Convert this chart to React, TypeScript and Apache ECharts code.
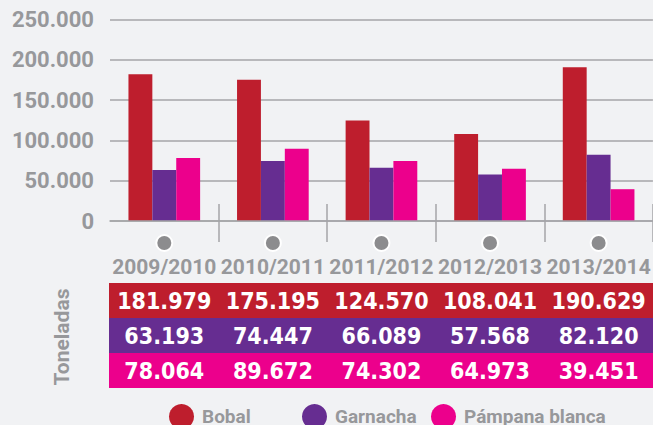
import React, { useEffect, useRef } from "react";
import * as echarts from "echarts";

const categories = ["2009/2010", "2010/2011", "2011/2012", "2012/2013", "2013/2014"];
const seriesNames = ["Bobal", "Garnacha", "Pámpana blanca"];
const bobal = [181979, 175195, 124570, 108041, 190629];
const garnacha = [63193, 74447, 66089, 57568, 82120];
const pampana = [78064, 89672, 74302, 64973, 39451];
const colors = ["#be1e2d", "#662d91", "#ec008c"];
const yMin = 0;
const yMax = 250000;
const yInterval = 50000;
const axisTitle = "Toneladas";

const fmt = (n: number) => String(Math.round(n)).replace(/\B(?=(\d{3})+(?!\d))/g, ".");
const GRAY = "#97989b";
const LINE = "#a4a5a8";

export default function App() {
  const ref = useRef<HTMLDivElement>(null);
  useEffect(() => {
    if (!ref.current) return;
    const chart = echarts.init(ref.current, null, { renderer: "svg" });
    const rows = [bobal, garnacha, pampana];
    const tableAxes = rows.map((row, i) => ({
      type: "category",
      gridIndex: 0,
      position: "bottom",
      offset: 62 + 35 * i,
      data: categories,
      z: 5,
      axisLine: { show: false },
      axisTick: { show: false },
      splitLine: { show: false },
      axisLabel: {
        interval: 0,
        margin: 0,
        color: "#ffffff",
        fontFamily: "DejaVu Sans Condensed",
        fontWeight: "bold",
        fontSize: 23,
        lineHeight: 35,
        formatter: (_v: string, idx: number) => fmt(row[idx]),
      },
    }));
    chart.setOption({
      animation: false,
      backgroundColor: "#f1f2f4",
      grid: { left: 110, right: -7, top: 19.5, bottom: 204, containLabel: false },
      xAxis: [
        {
          type: "category",
          data: categories,
          position: "bottom",
          z: 5,
          axisLine: { show: true, lineStyle: { color: LINE, width: 1.5 } },
          axisTick: {
            show: true,
            inside: true,
            length: 17,
            interval: (index: number) => index !== 0,
            lineStyle: { color: LINE, width: 1.5 },
          },
          axisLabel: {
            interval: 0,
            margin: 15,
            formatter: (v: string) => "{dot| }\n{t|" + v + "}",
            rich: {
              dot: {
                width: 14,
                height: 14,
                borderRadius: 7,
                backgroundColor: "#8c8c8e",
                borderColor: "#ffffff",
                borderWidth: 2,
                lineHeight: 14,
              },
              t: {
                color: GRAY,
                fontFamily: "Roboto",
                fontWeight: "bold",
                fontSize: 21,
                lineHeight: 34,
              },
            },
          },
        },
        {
          type: "category",
          data: categories,
          position: "bottom",
          axisLine: { show: false },
          axisTick: {
            show: true,
            inside: false,
            length: 21,
            interval: (index: number) => index !== 0,
            lineStyle: { color: LINE, width: 1.5 },
          },
          axisLabel: { show: false },
        },
        ...tableAxes,
      ],
      yAxis: {
        type: "value",
        min: yMin,
        max: yMax,
        interval: yInterval,
        axisLine: { show: false },
        axisTick: { show: false },
        splitLine: { lineStyle: { color: LINE, width: 1.5 } },
        axisLabel: {
          margin: 16,
          color: GRAY,
          fontFamily: "Roboto",
          fontWeight: "bold",
          fontSize: 22,
          formatter: (v: number) => fmt(v),
        },
      },
      legend: seriesNames.map((name, i) => ({
        data: [name],
        left: [169, 302, 431][i],
        top: 404,
        padding: 0,
        icon: "circle",
        itemWidth: 25,
        itemHeight: 25,
        textStyle: {
          color: GRAY,
          fontFamily: "Roboto",
          fontWeight: "bold",
          fontSize: 19,
          padding: [0, 0, 0, 3],
        },
      })),
      graphic: [
        ...colors.map((c, i) => ({
          type: "rect",
          z: 0,
          shape: { x: 109, y: 283 + 35 * i, width: 560, height: 35 },
          style: { fill: c },
        })),
        {
          type: "text",
          x: 62,
          y: 337,
          rotation: Math.PI / 2,
          style: {
            text: axisTitle,
            fill: GRAY,
            font: "bold 21px Roboto",
            textAlign: "center",
            textVerticalAlign: "middle",
          },
        },
      ],
      series: [bobal, garnacha, pampana].map((d, i) => ({
        name: seriesNames[i],
        type: "bar",
        data: d,
        barGap: "0%",
        barCategoryGap: "34%",
        itemStyle: { color: colors[i] },
      })),
    });
    return () => chart.dispose();
  }, []);
  return (
    <div
      ref={ref}
      style={{ position: "fixed", left: 0, top: 0, width: 653, height: 425 }}
    />
  );
}
